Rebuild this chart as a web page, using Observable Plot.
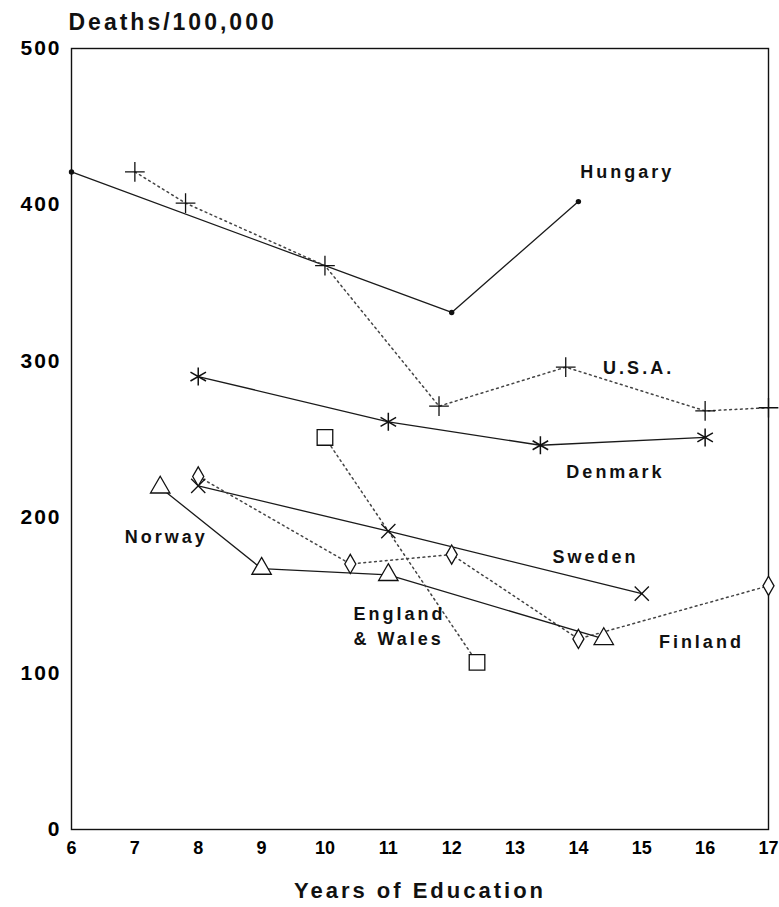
<!DOCTYPE html>
<html>
<head>
<meta charset="utf-8">
<script src="https://cdn.jsdelivr.net/npm/d3@7"></script>
<script src="https://cdn.jsdelivr.net/npm/@observablehq/plot@0.6"></script>
<style>
  html, body { margin: 0; padding: 0; background: #fff; }
  #chart svg { display: block; font-family: "Liberation Sans", Arial, sans-serif; }
  g[aria-label="y-axis tick label"] text { font-size: 21px; font-weight: bold; letter-spacing: 2px; }
  g[aria-label="x-axis tick label"] text { font-size: 18px; font-weight: bold; }
</style>
</head>
<body>
<div id="chart"></div>
<script>
// ---- data ----
const xTicks = [6, 7, 8, 9, 10, 11, 12, 13, 14, 15, 16, 17];
const yTicks = [0, 100, 200, 300, 400, 500];

const hungaryX = [6, 12, 14];
const hungaryY = [421, 331, 402];

const usaX = [7, 7.8, 10, 11.8, 13.8, 16, 17];
const usaY = [421, 401, 361, 271, 296, 268, 270];

const denmarkX = [8, 11, 13.4, 16];
const denmarkY = [290, 261, 246, 251];

const swedenX = [8, 11, 15];
const swedenY = [220, 191, 151];

const finlandX = [8, 10.4, 12, 14, 17];
const finlandY = [226, 170, 176, 122, 156];

const norwayX = [7.4, 9, 11, 14.4];
const norwayY = [219, 167, 163, 122];

const englandX = [10, 12.4];
const englandY = [251, 107];

const labelText = ["Hungary", "U.S.A.", "Denmark", "Norway", "Sweden", "England", "& Wales", "Finland"];
const labelX = [14.03, 14.39, 13.81, 6.84, 13.59, 10.45, 10.45, 15.27];
const labelY = [421, 295.5, 229, 187, 174, 138, 122, 120];

// ---- build tables ----
const rows = (xs, ys) => xs.map((x, i) => ({x, y: ys[i]}));
const hungary = rows(hungaryX, hungaryY);
const usa = rows(usaX, usaY);
const denmark = rows(denmarkX, denmarkY);
const sweden = rows(swedenX, swedenY);
const finland = rows(finlandX, finlandY);
const norway = rows(norwayX, norwayY);
const england = rows(englandX, englandY);
const labels = labelText.map((t, i) => ({t, x: labelX[i], y: labelY[i]}));

const solid = {x: "x", y: "y", stroke: "#1a1a1a", strokeWidth: 1.3};
const dotted = {x: "x", y: "y", stroke: "#444", strokeWidth: 1.5, strokeDasharray: "1.8,3.6"};
const mk = (symbol, r) => ({x: "x", y: "y", symbol, r, stroke: "#111", strokeWidth: 1.3, fill: "white"});

const chart = Plot.plot({
  width: 779,
  height: 907,
  marginTop: 48,
  marginLeft: 71,
  marginRight: 11,
  marginBottom: 78,
  x: {domain: [6, 17]},
  y: {domain: [0, 500]},
  marks: [
    Plot.frame({stroke: "#111", strokeWidth: 1.4}),
    Plot.axisX({ticks: xTicks, tickSize: 0, tickPadding: 12, label: null, tickFormat: d => String(d)}),
    Plot.axisY({ticks: yTicks, tickSize: 0, tickPadding: 10, label: null, tickFormat: d => String(d)}),
    Plot.line(hungary, solid),
    Plot.line(usa, dotted),
    Plot.line(denmark, solid),
    Plot.line(sweden, solid),
    Plot.line(finland, dotted),
    Plot.line(norway, solid),
    Plot.line(england, dotted),
    Plot.dot(hungary, {x: "x", y: "y", r: 2.7, fill: "#111"}),
    Plot.dot(usa, {x: "x", y: "y", symbol: "plus", r: 6.4, stroke: "#111", strokeWidth: 1.3}),
    Plot.dot(denmark, {x: "x", y: "y", symbol: "asterisk", r: 8.5, stroke: "#111", strokeWidth: 1.5}),
    Plot.dot(sweden, {x: "x", y: "y", symbol: "times", r: 6.5, stroke: "#111", strokeWidth: 1.3}),
    Plot.dot(finland, mk("diamond", 5.8)),
    Plot.dot(norway, mk("triangle", 7.2)),
    Plot.dot(england, mk("square", 8.8)),
    Plot.text(labels, {x: "x", y: "y", text: "t", textAnchor: "start", fontSize: 18, fontWeight: "bold", fill: "#111"}),
    Plot.text(["Deaths/100,000"], {frameAnchor: "top-left", lineAnchor: "middle", textAnchor: "start", dx: -3, dy: -26, fontSize: 23, fontWeight: "bold", fill: "#111"}),
    Plot.text(["Years of Education"], {frameAnchor: "bottom", lineAnchor: "middle", dy: 61, fontSize: 22, fontWeight: "bold", fill: "#111"})
  ]
});
d3.select(chart).selectAll('g[aria-label="text"] text').style("letter-spacing", "3px");
document.getElementById("chart").appendChild(chart);
</script>
</body>
</html>
